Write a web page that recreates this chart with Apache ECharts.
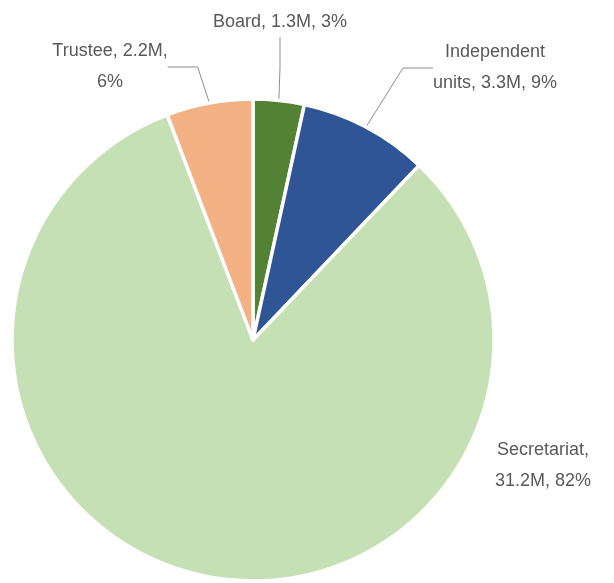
<!DOCTYPE html>
<html><head><meta charset="utf-8">
<script src="https://cdn.jsdelivr.net/npm/echarts@6/dist/echarts.min.js"></script>
<style>html,body{margin:0;padding:0;background:#fff}#c{width:614px;height:583px}</style>
</head><body><div id="c"></div>
<script>
const categories = ['Board', 'Independent\nunits', 'Secretariat', 'Trustee'];
const values = [1.3, 3.3, 31.2, 2.2];
const colors = ['#548235', '#2F5597', '#C5E0B4', '#F4B183'];
const labelPos = [[280, 22], [495, 68], [543, 466], [110, 67]];
const showLine = [true, true, false, true];
const total = values.reduce((a, b) => a + b, 0);
const chart = echarts.init(document.getElementById('c'), null, {renderer: 'canvas'});
chart.setOption({
  animation: false,
  series: [{
    type: 'pie',
    center: [253, 340],
    radius: [0, 241],
    startAngle: 90,
    clockwise: true,
    data: categories.map((n, i) => ({
      name: n, value: values[i],
      itemStyle: {color: colors[i]},
      labelLine: {show: showLine[i]}
    })),
    itemStyle: {borderColor: '#fff', borderWidth: 3.5},
    label: {
      show: true,
      position: 'outside',
      fontFamily: 'Liberation Sans, sans-serif',
      fontSize: 18,
      lineHeight: 31,
      color: '#595959',
      align: 'center',
      formatter: p => {
        const pct = Math.round(p.value / total * 100);
        if (p.dataIndex === 2) return p.name + ',\n' + p.value + 'M, ' + pct + '%';
        if (p.dataIndex === 3) return p.name + ', ' + p.value + 'M,\n' + pct + '%';
        return p.name + ', ' + p.value + 'M, ' + pct + '%';
      }
    },
    labelLine: {lineStyle: {color: '#8c8c8c', width: 1}},
    labelLayout: p => ({
      x: labelPos[p.dataIndex][0],
      y: labelPos[p.dataIndex][1],
      align: 'center',
      verticalAlign: 'middle'
    })
  }]
});
</script></body></html>
